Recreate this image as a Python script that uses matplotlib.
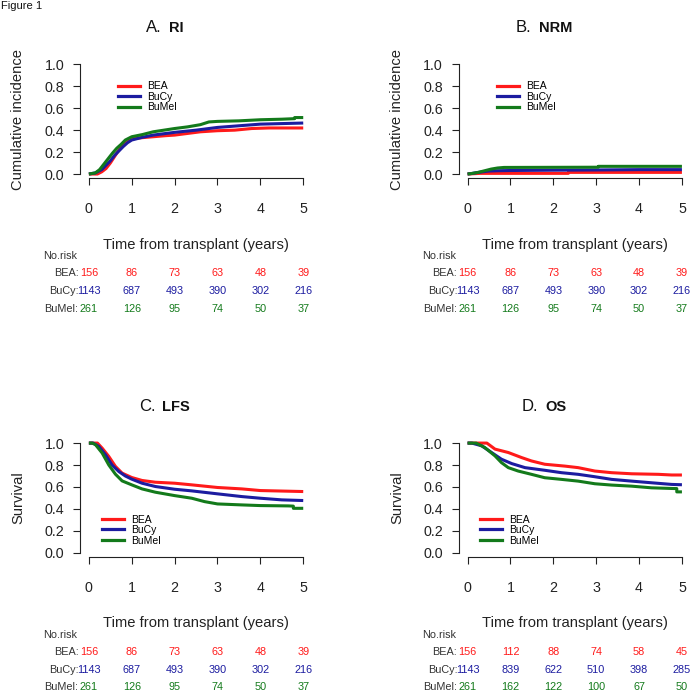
import matplotlib
matplotlib.use("Agg")
import matplotlib.pyplot as plt
import matplotlib.transforms as mtransforms
from matplotlib.lines import Line2D

plt.rcParams['font.family'] = ['Liberation Sans', 'DejaVu Sans']

# ---------------- data ----------------
groups = ["BEA", "BuCy", "BuMel"]
colors = ["#FF1A1A", "#1C1CA0", "#137A1B"]
time_ticks = [0, 1, 2, 3, 4, 5]

# Panel A: relapse incidence (cumulative incidence)
ri_bea_t = [0, 0.2, 0.3, 0.4, 0.5, 0.6, 0.7, 0.8, 0.9, 1.0, 1.2, 1.5, 1.8, 2.0, 2.3, 2.6, 3.0, 3.4, 3.8, 4.2, 5.0]
ri_bea_v = [0, 0.0, 0.02, 0.05, 0.10, 0.16, 0.22, 0.27, 0.30, 0.32, 0.33, 0.34, 0.35, 0.355, 0.37, 0.385, 0.395, 0.40, 0.415, 0.42, 0.42]
ri_bucy_t = [0, 0.15, 0.3, 0.4, 0.5, 0.6, 0.7, 0.8, 0.9, 1.0, 1.25, 1.5, 2.0, 2.5, 3.0, 3.5, 4.0, 4.5, 5.0]
ri_bucy_v = [0, 0.01, 0.04, 0.08, 0.12, 0.17, 0.21, 0.25, 0.285, 0.31, 0.335, 0.355, 0.38, 0.40, 0.425, 0.44, 0.455, 0.46, 0.465]
ri_bumel_t = [0, 0.15, 0.25, 0.35, 0.45, 0.55, 0.65, 0.75, 0.85, 1.0, 1.25, 1.5, 1.75, 2.0, 2.3, 2.6, 2.8, 3.0, 3.5, 4.0, 4.5, 4.8, 4.8, 5.0]
ri_bumel_v = [0, 0.01, 0.04, 0.09, 0.14, 0.19, 0.235, 0.27, 0.31, 0.34, 0.36, 0.385, 0.40, 0.415, 0.43, 0.45, 0.475, 0.48, 0.485, 0.495, 0.50, 0.505, 0.515, 0.515]

# Panel B: non-relapse mortality
nrm_bea_t = [0, 0.3, 2.35, 2.35, 5.0]
nrm_bea_v = [0, 0.006, 0.006, 0.015, 0.015]
nrm_bucy_t = [0, 0.1, 0.2, 0.35, 0.5, 0.7, 1.0, 2.0, 3.0, 4.0, 5.0]
nrm_bucy_v = [0, 0.005, 0.012, 0.02, 0.027, 0.03, 0.032, 0.035, 0.037, 0.04, 0.04]
nrm_bumel_t = [0, 0.1, 0.25, 0.4, 0.55, 0.7, 0.85, 3.05, 3.05, 5.0]
nrm_bumel_v = [0, 0.005, 0.015, 0.03, 0.045, 0.055, 0.06, 0.062, 0.07, 0.07]

# Panel C: leukemia-free survival
lfs_bea_t = [0, 0.2, 0.31, 0.465, 0.62, 0.775, 1.0, 1.24, 1.55, 2.0, 2.4, 3.0, 3.57, 4.0, 5.0]
lfs_bea_v = [1.0, 1.0, 0.954, 0.878, 0.787, 0.726, 0.686, 0.659, 0.643, 0.634, 0.619, 0.595, 0.582, 0.567, 0.558]
lfs_bucy_t = [0, 0.1, 0.23, 0.39, 0.54, 0.70, 0.85, 1.0, 1.24, 1.55, 2.0, 2.4, 3.0, 3.57, 4.0, 4.5, 5.0]
lfs_bucy_v = [1.0, 1.0, 0.97, 0.893, 0.80, 0.74, 0.70, 0.671, 0.634, 0.604, 0.579, 0.564, 0.537, 0.512, 0.497, 0.482, 0.476]
lfs_bumel_t = [0, 0.08, 0.155, 0.31, 0.465, 0.62, 0.775, 1.0, 1.24, 1.55, 2.0, 2.4, 2.7, 3.0, 3.57, 4.0, 4.65, 4.77, 4.77, 5.0]
lfs_bumel_v = [1.0, 1.0, 0.985, 0.909, 0.80, 0.716, 0.655, 0.619, 0.582, 0.552, 0.521, 0.497, 0.466, 0.445, 0.436, 0.43, 0.427, 0.425, 0.405, 0.405]

# Panel D: overall survival
os_bea_t = [0, 0.45, 0.64, 0.95, 1.26, 1.49, 1.8, 2.27, 2.58, 2.97, 3.36, 3.83, 4.45, 4.76, 5.0]
os_bea_v = [1.0, 1.0, 0.945, 0.914, 0.868, 0.837, 0.807, 0.79, 0.776, 0.745, 0.73, 0.72, 0.715, 0.709, 0.709]
os_bucy_t = [0, 0.1, 0.33, 0.56, 0.79, 1.03, 1.34, 1.8, 2.19, 2.58, 2.97, 3.36, 3.83, 4.29, 4.76, 5.0]
os_bucy_v = [1.0, 1.0, 0.975, 0.914, 0.853, 0.813, 0.776, 0.752, 0.73, 0.715, 0.693, 0.669, 0.653, 0.638, 0.623, 0.62]
os_bumel_t = [0, 0.2, 0.4, 0.64, 0.79, 0.95, 1.18, 1.49, 1.8, 2.19, 2.58, 2.97, 3.36, 3.83, 4.29, 4.76, 4.88, 4.88, 5.0]
os_bumel_v = [1.0, 1.0, 0.96, 0.883, 0.822, 0.776, 0.745, 0.715, 0.684, 0.669, 0.653, 0.629, 0.617, 0.607, 0.592, 0.586, 0.585, 0.555, 0.555]

# numbers at risk
risk_ci_bea = [156, 86, 73, 63, 48, 39]
risk_ci_bucy = [1143, 687, 493, 390, 302, 216]
risk_ci_bumel = [261, 126, 95, 74, 50, 37]
risk_os_bea = [156, 112, 88, 74, 58, 45]
risk_os_bucy = [1143, 839, 622, 510, 398, 285]
risk_os_bumel = [261, 162, 122, 100, 67, 50]

panels = [
    dict(letter="A.", name="RI", ylabel="Cumulative incidence",
         curves=[(ri_bea_t, ri_bea_v), (ri_bucy_t, ri_bucy_v), (ri_bumel_t, ri_bumel_v)],
         risk=[risk_ci_bea, risk_ci_bucy, risk_ci_bumel], leg=(0.68, 0.705)),
    dict(letter="B.", name="NRM", ylabel="Cumulative incidence",
         curves=[(nrm_bea_t, nrm_bea_v), (nrm_bucy_t, nrm_bucy_v), (nrm_bumel_t, nrm_bumel_v)],
         risk=[risk_ci_bea, risk_ci_bucy, risk_ci_bumel], leg=(0.68, 0.705)),
    dict(letter="C.", name="LFS", ylabel="Survival",
         curves=[(lfs_bea_t, lfs_bea_v), (lfs_bucy_t, lfs_bucy_v), (lfs_bumel_t, lfs_bumel_v)],
         risk=[risk_ci_bea, risk_ci_bucy, risk_ci_bumel], leg=(0.30, 0.207)),
    dict(letter="D.", name="OS", ylabel="Survival",
         curves=[(os_bea_t, os_bea_v), (os_bucy_t, os_bucy_v), (os_bumel_t, os_bumel_v)],
         risk=[risk_os_bea, risk_os_bucy, risk_os_bumel], leg=(0.29, 0.207)),
]

# ---------------- layout ----------------
W, H = 694, 696
fig = plt.figure(figsize=(W / 100, H / 100), dpi=100)

ax_w = 231.5
ax_h = 118.4
lefts = [80.3, 459.0, 80.3, 459.0]
bottoms_px = [178.4, 178.4, 557.1, 557.1]   # from top
title_c = [(164.5, 31.5), (544.0, 31.5), (164.5, 411.0), (544.0, 411.0)]

for p, l, b in zip(panels, lefts, bottoms_px):
    ax = fig.add_axes([l / W, 1 - b / H, ax_w / W, ax_h / H])
    for (t, v), c in zip(p["curves"], colors):
        ax.plot(t, v, color=c, lw=2.2, solid_joinstyle="round", solid_capstyle="butt")
    ax.set_xlim(-0.2, 5.2)
    ax.set_ylim(-0.04, 1.04)
    for s in ("top", "right"):
        ax.spines[s].set_visible(False)
    ax.spines["left"].set_bounds(0, 1)
    ax.spines["bottom"].set_bounds(0, 5)
    for s in ("left", "bottom"):
        ax.spines[s].set_linewidth(0.8)
        ax.spines[s].set_color("#222222")
    ax.set_xticks(time_ticks)
    ax.set_yticks([0, 0.2, 0.4, 0.6, 0.8, 1.0])
    ax.set_yticklabels(["0.0", "0.2", "0.4", "0.6", "0.8", "1.0"])
    ax.tick_params(axis="x", length=5, width=0.8, pad=12, labelsize=10.3, colors="#222222")
    ax.tick_params(axis="y", length=5, width=0.8, pad=6.5, labelsize=10.3, colors="#222222")
    ax.set_ylabel(p["ylabel"], fontsize=10.6, color="#222222")
    ax.yaxis.set_label_coords(-0.238, 0.5)
    ax.set_xlabel("Time from transplant (years)", fontsize=10.6, color="#222222")
    ax.xaxis.set_label_coords(0.5, -0.5)
    ax.patch.set_alpha(0)

    handles = [Line2D([], [], color=c, lw=2.3) for c in colors]
    ax.legend(handles, groups, loc="center left", bbox_to_anchor=p["leg"],
              bbox_transform=ax.transData, frameon=False, fontsize=7.5,
              handlelength=2.1, handletextpad=0.7, labelspacing=0.05,
              borderpad=0, borderaxespad=0)

    trans = mtransforms.blended_transform_factory(ax.transData, ax.transAxes)
    ax.text(-1.056, -0.655, "No.risk", transform=trans, fontsize=7.8,
            ha="left", va="center", color="#333333")
    rows_y = [-0.80, -0.95, -1.10]
    for g, c, vals, ry in zip(groups, colors, p["risk"], rows_y):
        ax.text(-0.24, ry, g + ":", transform=trans, fontsize=7.8,
                ha="right", va="center", color="#333333")
        for tt, n in zip(time_ticks, vals):
            ax.text(tt, ry, str(n), transform=trans, fontsize=7.8,
                    ha="center", va="center", color=c)

# titles: normal letter + bold smaller name, centered together
fig.canvas.draw()
renderer = fig.canvas.get_renderer()
for p, (cx, by) in zip(panels, title_c):
    t1 = fig.text(0, 1 - by / H, p["letter"], fontsize=12, va="baseline", ha="left", color="#111111")
    t2 = fig.text(0, 1 - by / H, p["name"], fontsize=10.5, fontweight="bold", va="baseline", ha="left", color="#111111")
    w1 = t1.get_window_extent(renderer).width
    w2 = t2.get_window_extent(renderer).width
    gap = 7
    x0 = cx - (w1 + gap + w2) / 2
    t1.set_x(x0 / W)
    t2.set_x((x0 + w1 + gap) / W)

# small heading at the very top left
fig.text(0.002, 1 - 1 / H, "Figure 1", fontsize=8, va="top", ha="left", color="#111111")

fig.savefig("out.png", dpi=100)
